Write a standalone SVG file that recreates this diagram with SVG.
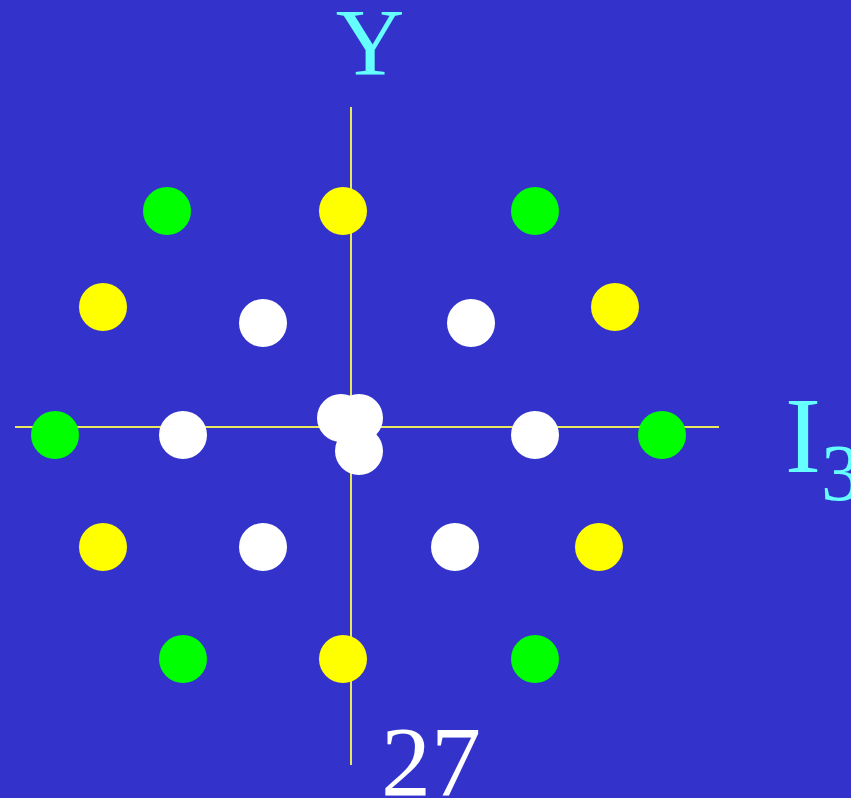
<svg xmlns="http://www.w3.org/2000/svg" width="851" height="798" viewBox="0 0 851 798">
<style>
.ax{stroke:#E8E860;stroke-width:2;fill:none}
.g{fill:#00FF00}.y{fill:#FFFF00}.w{fill:#FFFFFF}
.lbl{font-family:"Liberation Serif","Times New Roman",serif;fill:#66FFFF}
</style>
<rect width="851" height="798" fill="#3333CC"/>
<g id="axes">
<line class="ax" x1="351" y1="107" x2="351" y2="765"/>
<line class="ax" x1="15" y1="427" x2="719" y2="427"/>
</g>
<g id="green">
<circle class="g" cx="167" cy="211" r="24"/>
<circle class="g" cx="535" cy="211" r="24"/>
<circle class="g" cx="55" cy="435" r="24"/>
<circle class="g" cx="662" cy="435" r="24"/>
<circle class="g" cx="183" cy="659" r="24"/>
<circle class="g" cx="535" cy="659" r="24"/>
</g>
<g id="yellow">
<circle class="y" cx="343" cy="211" r="24"/>
<circle class="y" cx="103" cy="307" r="24"/>
<circle class="y" cx="615" cy="307" r="24"/>
<circle class="y" cx="103" cy="547" r="24"/>
<circle class="y" cx="599" cy="547" r="24"/>
<circle class="y" cx="343" cy="659" r="24"/>
</g>
<g id="white">
<circle class="w" cx="263" cy="323" r="24"/>
<circle class="w" cx="471" cy="323" r="24"/>
<circle class="w" cx="183" cy="435" r="24"/>
<circle class="w" cx="535" cy="435" r="24"/>
<circle class="w" cx="263" cy="547" r="24"/>
<circle class="w" cx="455" cy="547" r="24"/>
<circle class="w" cx="341" cy="418" r="24"/>
<circle class="w" cx="359" cy="418" r="24"/>
<circle class="w" cx="359" cy="451" r="24"/>
</g>
<g id="labels">
<text class="lbl" x="370" y="75" font-size="95" text-anchor="middle">Y</text>
<text class="lbl" x="785" y="472" font-size="108">I<tspan font-size="80" dy="28">3</tspan></text>
<text x="381" y="795" font-size="100" fill="#FFFFFF" font-family="Liberation Serif, Times New Roman, serif">27</text>
</g>
</svg>
